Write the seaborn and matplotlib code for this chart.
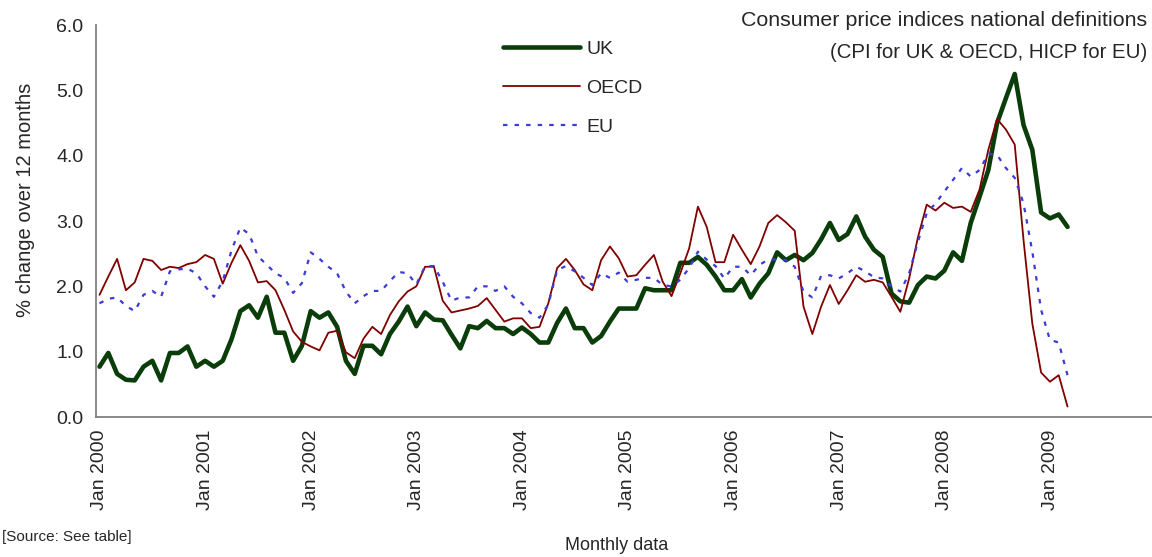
import numpy as np
import pandas as pd
import matplotlib
matplotlib.use("Agg")
import matplotlib.pyplot as plt
import matplotlib.transforms as mtransforms
import seaborn as sns

# ---------------- data (annual % change, monthly, Jan 2000 - Mar 2009) ----------------
uk = [0.77, 0.98, 0.66, 0.57, 0.56, 0.77, 0.86, 0.56, 0.98, 0.98, 1.08, 0.77,
      0.86, 0.77, 0.86, 1.19, 1.62, 1.71, 1.52, 1.84, 1.29, 1.29, 0.86, 1.09,
      1.62, 1.52, 1.60, 1.38, 0.86, 0.66, 1.09, 1.09, 0.96, 1.27, 1.46, 1.69,
      1.39, 1.60, 1.49, 1.48, 1.26, 1.05, 1.39, 1.36, 1.47, 1.36, 1.36, 1.27,
      1.37, 1.27, 1.14, 1.14, 1.44, 1.66, 1.36, 1.36, 1.14, 1.24, 1.46, 1.66,
      1.66, 1.66, 1.97, 1.94, 1.94, 1.94, 2.36, 2.36, 2.45, 2.33, 2.15, 1.94,
      1.94, 2.11, 1.83, 2.04, 2.20, 2.52, 2.40, 2.48, 2.40, 2.51, 2.72, 2.97,
      2.71, 2.80, 3.07, 2.76, 2.56, 2.45, 1.89, 1.77, 1.75, 2.02, 2.15, 2.12,
      2.24, 2.52, 2.39, 2.97, 3.37, 3.78, 4.50, 4.88, 5.25, 4.47, 4.09, 3.13,
      3.04, 3.10, 2.91]

oecd = [1.87, 2.15, 2.42, 1.94, 2.06, 2.42, 2.39, 2.25, 2.30, 2.28, 2.34, 2.37,
        2.48, 2.42, 2.04, 2.36, 2.63, 2.39, 2.06, 2.08, 1.94, 1.64, 1.31, 1.15,
        1.08, 1.02, 1.29, 1.32, 0.99, 0.90, 1.20, 1.38, 1.27, 1.56, 1.77, 1.92,
        2.00, 2.30, 2.30, 1.78, 1.60, 1.63, 1.66, 1.70, 1.82, 1.64, 1.46, 1.51,
        1.51, 1.36, 1.38, 1.74, 2.28, 2.42, 2.25, 2.03, 1.94, 2.40, 2.61, 2.43,
        2.15, 2.17, 2.33, 2.48, 2.07, 1.85, 2.20, 2.58, 3.22, 2.91, 2.37, 2.37,
        2.79, 2.56, 2.34, 2.61, 2.97, 3.09, 2.98, 2.85, 1.69, 1.27, 1.69, 2.02,
        1.73, 1.94, 2.17, 2.07, 2.10, 2.06, 1.84, 1.61, 2.12, 2.75, 3.25, 3.16,
        3.28, 3.20, 3.22, 3.14, 3.48, 4.09, 4.56, 4.40, 4.17, 2.71, 1.43, 0.68,
        0.54, 0.64, 0.16]

eu = [1.74, 1.81, 1.83, 1.70, 1.62, 1.87, 1.93, 1.84, 2.23, 2.26, 2.27, 2.20,
      2.00, 1.84, 2.08, 2.55, 2.90, 2.80, 2.46, 2.33, 2.20, 2.13, 1.90, 2.05,
      2.52, 2.42, 2.30, 2.20, 1.92, 1.74, 1.85, 1.93, 1.93, 2.08, 2.22, 2.20,
      2.03, 2.31, 2.31, 2.07, 1.78, 1.83, 1.83, 2.00, 2.00, 1.93, 2.00, 1.84,
      1.74, 1.59, 1.52, 1.72, 2.25, 2.31, 2.23, 2.13, 2.02, 2.20, 2.13, 2.21,
      2.07, 2.10, 2.13, 2.13, 2.02, 2.00, 2.10, 2.28, 2.53, 2.41, 2.31, 2.12,
      2.30, 2.30, 2.17, 2.33, 2.41, 2.41, 2.40, 2.30, 1.92, 1.83, 2.16, 2.17,
      2.12, 2.20, 2.30, 2.23, 2.14, 2.12, 2.00, 1.92, 2.20, 2.68, 3.12, 3.27,
      3.45, 3.63, 3.81, 3.68, 3.78, 4.03, 4.01, 3.81, 3.66, 3.27, 2.53, 1.64,
      1.18, 1.14, 0.64]

years = list(range(2000, 2010))
tick_labels = [f"Jan {y}" for y in years]
series_names = ["UK", "OECD", "EU"]

# ---------------- build frame ----------------
n = len(uk)
month_pos = np.arange(n) + 0.4
df = pd.DataFrame({"month": month_pos, "UK": uk, "OECD": oecd, "EU": eu})

sns.set_style("white")
plt.rcParams["font.family"] = ["Liberation Sans", "DejaVu Sans"]

fig = plt.figure(figsize=(11.52, 5.57), dpi=100)
ax = fig.add_axes([96 / 1152, 1 - 417 / 557, 1 - 96 / 1152, (417 - 25) / 557])

styles = {
    "UK": dict(color="#0b3d0b", lw=3.3, ls="-"),
    "OECD": dict(color="#800000", lw=1.3, ls="-"),
    "EU": dict(color="#3b3bd6", lw=1.6, ls=(0, (2.0, 3.2))),
}
for name in series_names:
    st = styles[name]
    sns.lineplot(data=df, x="month", y=name, ax=ax, color=st["color"],
                 linewidth=st["lw"], linestyle=st["ls"], label=name)

ax.set_xlim(0, 120)
ax.set_ylim(0, 6)
ax.set_yticks(np.arange(0, 6.01, 1.0))
ax.set_yticklabels([f"{v:.1f}" for v in np.arange(0, 6.01, 1.0)], fontsize=14)
major_x = np.arange(0, 121, 12)
ax.set_xticks(major_x)
ax.set_xticklabels(tick_labels + [""] * (len(major_x) - len(tick_labels)),
                   rotation=90, fontsize=14)
ax.set_xticks(np.arange(0, 121, 3), minor=True)

for side in ["top", "right"]:
    ax.spines[side].set_visible(False)
for side in ["left", "bottom"]:
    ax.spines[side].set_color("#808080")
    ax.spines[side].set_linewidth(1.3)
ax.tick_params(axis="both", which="both", direction="out", color="#808080", width=1.2)
ax.tick_params(axis="both", which="major", length=6)
ax.tick_params(axis="x", which="minor", length=5)
ax.tick_params(axis="x", which="major", pad=3)
ax.tick_params(axis="y", which="major", pad=3)

shift = mtransforms.ScaledTranslation(4 / 100, 0, fig.dpi_scale_trans)
for lab in ax.xaxis.get_majorticklabels():
    lab.set_transform(lab.get_transform() + shift)

ax.set_xlabel("")
ax.set_ylabel("% change over 12 months", fontsize=14.5)
ax.yaxis.set_label_coords((35 - 96) / 1056, (417 - 200) / 392)

fig.text(617 / 1152, 1 - 545 / 557, "Monthly data", fontsize=13, ha="center", va="center")
fig.text(2 / 1152, 1 - 537 / 557, "[Source: See table]", fontsize=11, ha="left", va="center")

fig.text(1147 / 1152, 1 - 20 / 557, "Consumer price indices national definitions",
         fontsize=15.4, ha="right", va="center")
fig.text(1147 / 1152, 1 - 52 / 557, "(CPI for UK & OECD, HICP for EU)",
         fontsize=14.7, ha="right", va="center")

leg = ax.legend(loc="upper left", bbox_to_anchor=(485 / 1152, 1 - 23 / 557),
                bbox_transform=fig.transFigure, frameon=False, fontsize=14,
                handlelength=4.0, handletextpad=0.3, labelspacing=1.1)

fig.savefig("out.png", dpi=100)
